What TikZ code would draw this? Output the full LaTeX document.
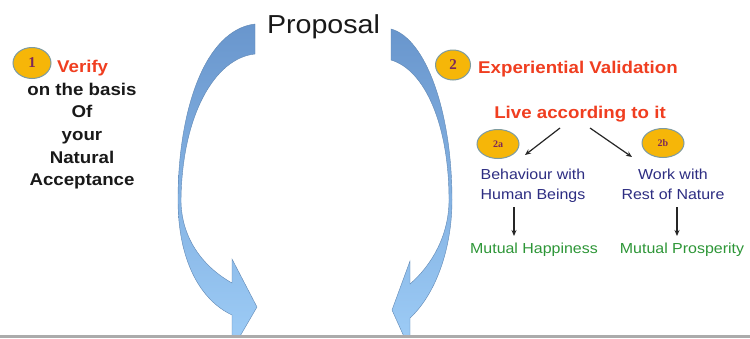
\documentclass[tikz,border=0pt]{standalone}
\usepackage{fontspec}
\setmainfont{Liberation Sans}[FakeStretch=1.1]
\newfontfamily\numfont{Liberation Serif}
\usetikzlibrary{arrows.meta,shapes.geometric}
\definecolor{vred}{RGB}{240,62,32}
\definecolor{navy}{RGB}{45,45,130}
\definecolor{mgreen}{RGB}{45,150,55}
\definecolor{badgefill}{RGB}{246,182,8}
\definecolor{badgeline}{RGB}{125,155,160}
\definecolor{numcol}{RGB}{125,40,90}
\definecolor{arrtop}{RGB}{105,150,205}
\definecolor{arrbot}{RGB}{158,205,247}
\definecolor{arrline}{RGB}{95,135,180}
\tikzset{
  txt/.style={inner sep=0pt, anchor=base},
  bigarrow/.style={top color=arrtop, bottom color=arrbot, draw=arrline, line width=0.4pt},
  badge/.style={ellipse, fill=badgefill, draw=badgeline, line width=1pt, inner sep=0pt,
    text=numcol, font=\numfont\bfseries\fontsize{15}{16}\selectfont},
  smallbadge/.style={badge, font=\numfont\bfseries\fontsize{10}{11}\selectfont},
  conn/.style={-{Stealth[length=6pt,width=5pt]}, line width=1.2pt, black!85},
  redtxt/.style={txt, text=vred, font=\bfseries\fontsize{17}{20}\selectfont},
  blktxt/.style={txt, text=black!90, font=\bfseries\fontsize{17}{20}\selectfont},
  bluetxt/.style={txt, text=navy, font=\fontsize{14.5}{17}\selectfont},
  greentxt/.style={txt, text=mgreen, font=\fontsize{14.5}{17}\selectfont},
}
\begin{document}
\begin{tikzpicture}[x=1pt,y=-1pt]
\useasboundingbox (0,0) rectangle (750,338);
\fill[white] (0,0) rectangle (750,338);
% big curved arrows
\begin{scope}
\clip (0,0) rectangle (750,335);
\shade[bigarrow] (255,24) .. controls (205,30) and (178,110) .. (178,200)
  .. controls (178,260) and (200,300) .. (232,315) -- (232,350) -- (257,307) -- (232,259) -- (232,283)
  .. controls (200,265) and (181,235) .. (181,200)
  .. controls (182,115) and (215,58) .. (255,54) -- cycle;
\shade[bigarrow] (391,29) .. controls (425,38) and (452,110) .. (452,200)
  .. controls (452,250) and (435,295) .. (410,318) -- (410,350) -- (392,310) -- (410,261) -- (410,284)
  .. controls (432,265) and (449,235) .. (449,200)
  .. controls (449,125) and (425,70) .. (391,60) -- cycle;
\end{scope}
\fill[black!33] (0,335) rectangle (750,338);
% title
\node[txt, text=black!90, font=\fontsize{26}{30}\selectfont] (prop) at (323.5,33) {Proposal};
% left block
\node[badge, minimum width=38pt, minimum height=31pt] (b1) at (32,63) {1};
\node[redtxt, anchor=base west] (verify) at (57,72) {Verify};
\node[blktxt] (l1) at (82,95) {on the basis};
\node[blktxt] (l2) at (82,117) {Of};
\node[blktxt] (l3) at (82,140) {your};
\node[blktxt] (l4) at (82,163) {Natural};
\node[blktxt] (l5) at (82,185) {Acceptance};
% right block
\node[badge, minimum width=35pt, minimum height=30pt] (b2) at (453,65) {2};
\node[redtxt, anchor=base west] (exp) at (478,73) {Experiential Validation};
\node[redtxt] (live) at (580,118) {Live according to it};
\node[smallbadge, minimum width=42pt, minimum height=29pt] (b2a) at (498,144) {2a};
\node[smallbadge, minimum width=42pt, minimum height=29pt] (b2b) at (663,143) {2b};
\node[bluetxt] (beh) at (533,179) {Behaviour with};
\node[bluetxt] (hb) at (533,199) {Human Beings};
\node[bluetxt] (work) at (673,179) {Work with};
\node[bluetxt] (rest) at (673,199) {Rest of Nature};
\node[greentxt] (mh) at (534,253) {Mutual Happiness};
\node[greentxt] (mp) at (682,253) {Mutual Prosperity};
% connectors
\coordinate (la) at (560,128);
\coordinate (lb) at (525,155);
\coordinate (ra) at (590,128);
\coordinate (rb) at (632,157);
\coordinate (da1) at (514,207);
\coordinate (da2) at (514,236);
\coordinate (db1) at (677,207);
\coordinate (db2) at (677,236);
\draw[conn] (la) -- (lb);
\draw[conn] (ra) -- (rb);
\draw[conn] (da1) -- (da2);
\draw[conn] (db1) -- (db2);
\end{tikzpicture}
\end{document}
